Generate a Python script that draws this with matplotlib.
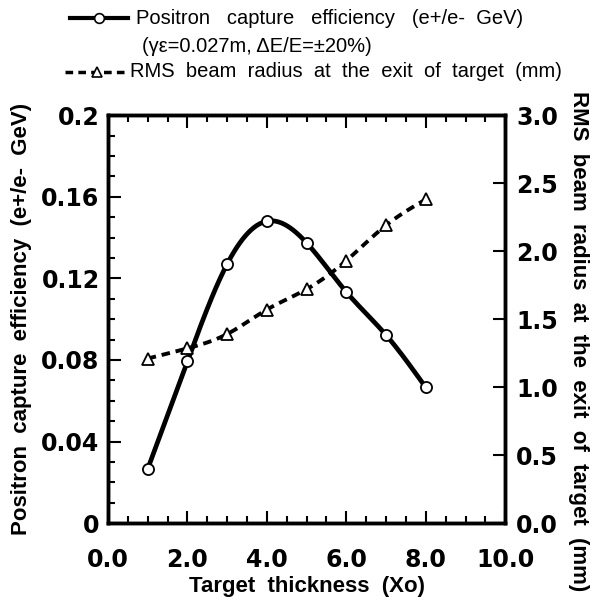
import numpy as np
import matplotlib.pyplot as plt
from matplotlib.lines import Line2D
from matplotlib.ticker import MultipleLocator

plt.rcParams['font.family'] = ['Liberation Sans', 'DejaVu Sans']

thickness = [1, 2, 3, 4, 5, 6, 7, 8]
efficiency = [0.0265, 0.0793, 0.127, 0.148, 0.1374, 0.1133, 0.0922, 0.0665]
radius = [1.21, 1.285, 1.39, 1.57, 1.72, 1.93, 2.19, 2.38]

x_ticks = [0, 2, 4, 6, 8, 10]
x_labels = ['0.0', '2.0', '4.0', '6.0', '8.0', '10.0']
left_ticks = [0, 0.04, 0.08, 0.12, 0.16, 0.2]
left_labels = ['0', '0.04', '0.08', '0.12', '0.16', '0.2']
right_ticks = [0, 0.5, 1.0, 1.5, 2.0, 2.5, 3.0]
right_labels = ['0.0', '0.5', '1.0', '1.5', '2.0', '2.5', '3.0']


def smooth(x, y, n=200):
    # natural cubic spline, only for drawing the curve between markers
    x = np.asarray(x, float)
    y = np.asarray(y, float)
    h = np.diff(x)
    m = len(x)
    A = np.zeros((m, m))
    b = np.zeros(m)
    A[0, 0] = A[-1, -1] = 1
    for i in range(1, m - 1):
        A[i, i - 1] = h[i - 1]
        A[i, i] = 2 * (h[i - 1] + h[i])
        A[i, i + 1] = h[i]
        b[i] = 6 * ((y[i + 1] - y[i]) / h[i] - (y[i] - y[i - 1]) / h[i - 1])
    M = np.linalg.solve(A, b)
    xs = np.linspace(x[0], x[-1], n)
    idx = np.clip(np.searchsorted(x, xs) - 1, 0, m - 2)
    x0, x1 = x[idx], x[idx + 1]
    hh = x1 - x0
    t0 = x1 - xs
    t1 = xs - x0
    ys = (M[idx] * t0 ** 3 + M[idx + 1] * t1 ** 3) / (6 * hh) \
        + (y[idx] / hh - M[idx] * hh / 6) * t0 \
        + (y[idx + 1] / hh - M[idx + 1] * hh / 6) * t1
    return xs, ys


fig = plt.figure(figsize=(5.93, 6.09), dpi=100)
ax = fig.add_axes([0.182, 0.141, 0.670, 0.670])
ax2 = ax.twinx()

xs, ys = smooth(thickness, efficiency)
ax.plot(xs, ys, color='black', lw=3.4, zorder=3)
ax.plot(thickness, efficiency, 'o', ms=8, mfc='white', mec='black', mew=1.3, zorder=4)

xs2, ys2 = smooth(thickness, radius)
ax2.plot(xs2, ys2, color='black', lw=2.8, ls=(0, (2.2, 1.5)), zorder=3)
ax2.plot(thickness, radius, '^', ms=8, mfc='white', mec='black', mew=1.3, zorder=4)

ax.set_xlim(0, 10)
ax.set_ylim(0, 0.2)
ax2.set_ylim(0, 3.0)

tick_font = dict(fontsize=17, fontweight='bold', family='DejaVu Sans')
ax.set_xticks(x_ticks)
ax.set_xticklabels(x_labels, **tick_font)
ax.set_yticks(left_ticks)
ax.set_yticklabels(left_labels, **tick_font)
ax2.set_yticks(right_ticks)
ax2.set_yticklabels(right_labels, **tick_font)

ax.xaxis.set_minor_locator(MultipleLocator(0.5))
ax.yaxis.set_minor_locator(MultipleLocator(0.01))
ax.tick_params(which='both', direction='in', top=True, right=False, width=1.5)
ax.tick_params(which='major', length=9)
ax.tick_params(which='minor', length=5)
ax.tick_params(axis='x', pad=18)
ax.tick_params(axis='y', pad=6)
ax2.tick_params(direction='in', length=9, width=1.5, pad=8)

for sp in ax.spines.values():
    sp.set_linewidth(2.5)
for sp in ax2.spines.values():
    sp.set_linewidth(2.5)

label_font = dict(fontsize=16, fontweight='bold')
ax.set_xlabel('Target  thickness  (Xo)', labelpad=3, **label_font)
ax.set_ylabel('Positron  capture  efficiency  (e+/e-  GeV)', va='center', **label_font)
ax.yaxis.set_label_coords(-0.217, 0.5)
ax2.set_ylabel('RMS  beam  radius  at  the  exit  of  target  (mm)', rotation=270,
               va='center', **label_font)
ax2.yaxis.set_label_coords(1.185, 0.445)

# legend drawn above the axes
leg_font = 14.5
fig.add_artist(Line2D([0.118, 0.216], [0.970, 0.970], color='black', lw=3))
fig.add_artist(Line2D([0.167], [0.970], marker='o', ms=7, mfc='white', mec='black', mew=1.2))
fig.text(0.229, 0.970, 'Positron   capture   efficiency   (e+/e-  GeV)', fontsize=leg_font,
         va='center')
fig.text(0.239, 0.924, '(γε=0.027m, ΔE/E=±20%)', fontsize=leg_font, va='center')
fig.add_artist(Line2D([0.110, 0.216], [0.882, 0.882], color='black', lw=2.5,
                      ls=(0, (2.2, 1.5))))
fig.add_artist(Line2D([0.163], [0.882], marker='^', ms=7, mfc='white', mec='black', mew=1.2))
fig.text(0.219, 0.882, 'RMS  beam  radius  at  the  exit  of  target  (mm)', fontsize=leg_font,
         va='center')

fig.savefig('out.png', dpi=100)
